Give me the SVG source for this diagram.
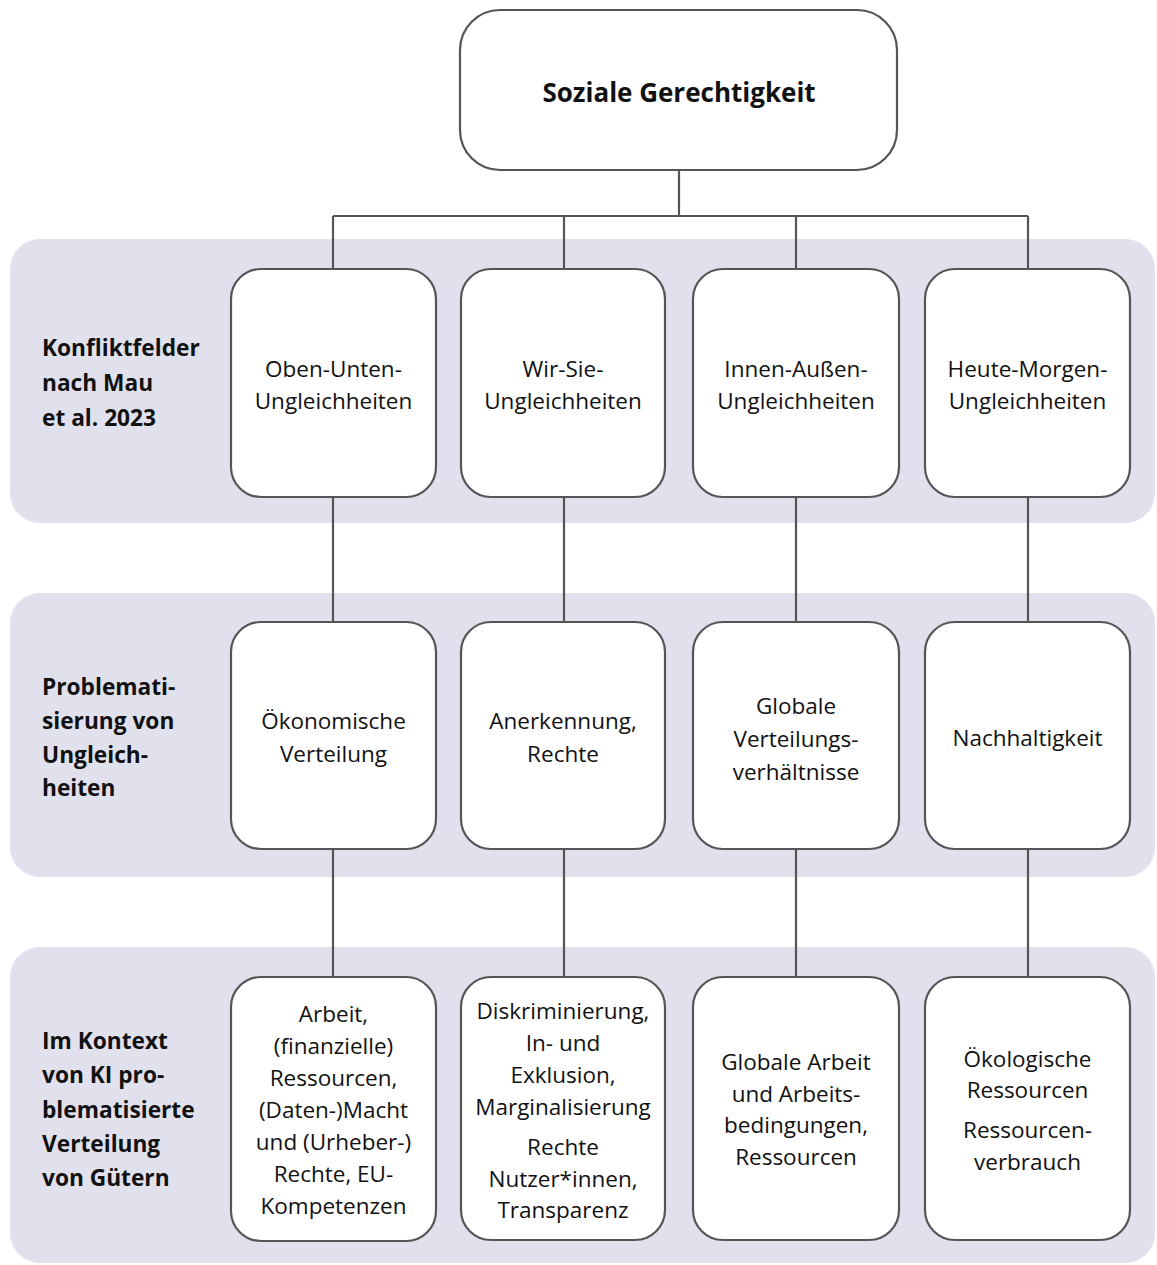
<svg xmlns="http://www.w3.org/2000/svg" width="1157" height="1265" viewBox="0 0 1157 1265">
<style>
.band{fill:#e1e1ed;stroke:none}
.box{fill:#fff;stroke:#555;stroke-width:2.2}
.ln{stroke:#555;stroke-width:2.2;fill:none}
text{font-family:"Open Sans","Noto Sans","Liberation Sans",sans-serif;fill:#111}
.t{font-size:22.5px;text-anchor:middle}
.lb{font-size:22.7px;font-weight:bold}
.hd{font-size:26px;font-weight:bold;text-anchor:middle}
</style>
<rect width="1157" height="1265" fill="#fff"/>
<g id="bands">
<rect class="band" x="10" y="239" width="1145" height="284" rx="30"/>
<rect class="band" x="10" y="593" width="1145" height="284" rx="30"/>
<rect class="band" x="10" y="947" width="1145" height="316" rx="30"/>
</g>
<g id="connectors">
<path class="ln" d="M679,170 V216 M333,216 H1028 M333,216 V269 M564,216 V269 M796,216 V269 M1028,216 V269"/>
<path class="ln" d="M333,497 V622 M564,497 V622 M796,497 V622 M1028,497 V622"/>
<path class="ln" d="M333,849 V977 M564,849 V977 M796,849 V977 M1028,849 V977"/>
</g>
<g id="root">
<rect class="box" x="460" y="10" width="437" height="160" rx="40"/>
<text class="hd" x="679" y="102">Soziale Gerechtigkeit</text>
</g>
<g id="label1">
<text class="lb" x="42" y="356">Konfliktfelder</text>
<text class="lb" x="42" y="391">nach Mau</text>
<text class="lb" x="42" y="426">et al. 2023</text>
</g>
<g id="label2">
<text class="lb" x="42" y="695">Problemati-</text>
<text class="lb" x="42" y="729">sierung von</text>
<text class="lb" x="42" y="763">Ungleich-</text>
<text class="lb" x="42" y="796">heiten</text>
</g>
<g id="label3">
<text class="lb" x="42" y="1049">Im Kontext</text>
<text class="lb" x="42" y="1083">von KI pro-</text>
<text class="lb" x="42" y="1118">blematisierte</text>
<text class="lb" x="42" y="1152">Verteilung</text>
<text class="lb" x="42" y="1186">von Gütern</text>
</g>
<g id="n11"><rect class="box" x="231" y="269" width="205" height="228" rx="30"/>
<text class="t" x="333.5" y="377">Oben-Unten-</text><text class="t" x="333.5" y="409">Ungleichheiten</text></g>
<g id="n12"><rect class="box" x="461" y="269" width="204" height="228" rx="30"/>
<text class="t" x="563" y="377">Wir-Sie-</text><text class="t" x="563" y="409">Ungleichheiten</text></g>
<g id="n13"><rect class="box" x="693" y="269" width="206" height="228" rx="30"/>
<text class="t" x="796" y="377">Innen-Außen-</text><text class="t" x="796" y="409">Ungleichheiten</text></g>
<g id="n14"><rect class="box" x="925" y="269" width="205" height="228" rx="30"/>
<text class="t" x="1027.5" y="377">Heute-Morgen-</text><text class="t" x="1027.5" y="409">Ungleichheiten</text></g>
<g id="n21"><rect class="box" x="231" y="622" width="205" height="227" rx="30"/>
<text class="t" x="333.5" y="729">Ökonomische</text><text class="t" x="333.5" y="762">Verteilung</text></g>
<g id="n22"><rect class="box" x="461" y="622" width="204" height="227" rx="30"/>
<text class="t" x="563" y="729">Anerkennung,</text><text class="t" x="563" y="762">Rechte</text></g>
<g id="n23"><rect class="box" x="693" y="622" width="206" height="227" rx="30"/>
<text class="t" x="796" y="714">Globale</text><text class="t" x="796" y="747">Verteilungs-</text><text class="t" x="796" y="780">verhältnisse</text></g>
<g id="n24"><rect class="box" x="925" y="622" width="205" height="227" rx="30"/>
<text class="t" x="1027.5" y="746">Nachhaltigkeit</text></g>
<g id="n31"><rect class="box" x="231" y="977" width="205" height="264" rx="30"/>
<text class="t" x="333.5" y="1022">Arbeit,</text><text class="t" x="333.5" y="1054">(finanzielle)</text><text class="t" x="333.5" y="1086">Ressourcen,</text><text class="t" x="333.5" y="1118">(Daten-)Macht</text><text class="t" x="333.5" y="1150">und (Urheber-)</text><text class="t" x="333.5" y="1182">Rechte, EU-</text><text class="t" x="333.5" y="1214">Kompetenzen</text></g>
<g id="n32"><rect class="box" x="461" y="977" width="204" height="263" rx="30"/>
<text class="t" x="563" y="1019">Diskriminierung,</text><text class="t" x="563" y="1051">In- und</text><text class="t" x="563" y="1083">Exklusion,</text><text class="t" x="563" y="1115">Marginalisierung</text><text class="t" x="563" y="1155">Rechte</text><text class="t" x="563" y="1187">Nutzer*innen,</text><text class="t" x="563" y="1218">Transparenz</text></g>
<g id="n33"><rect class="box" x="693" y="977" width="206" height="263" rx="30"/>
<text class="t" x="796" y="1070">Globale Arbeit</text><text class="t" x="796" y="1102">und Arbeits-</text><text class="t" x="796" y="1133">bedingungen,</text><text class="t" x="796" y="1165">Ressourcen</text></g>
<g id="n34"><rect class="box" x="925" y="977" width="205" height="263" rx="30"/>
<text class="t" x="1027.5" y="1067">Ökologische</text><text class="t" x="1027.5" y="1098">Ressourcen</text><text class="t" x="1027.5" y="1138">Ressourcen-</text><text class="t" x="1027.5" y="1170">verbrauch</text></g>
</svg>
